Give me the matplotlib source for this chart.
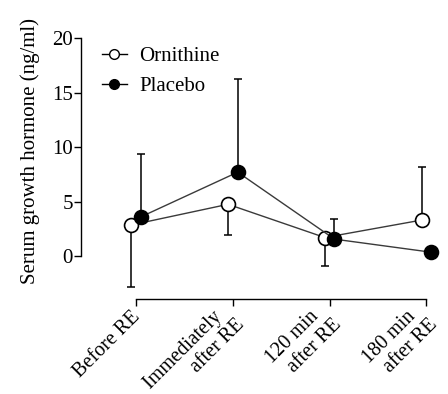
import numpy as np
import matplotlib
matplotlib.use('Agg')
import matplotlib.pyplot as plt
import matplotlib.transforms as mtransforms

# data
timepoints = ['Before RE', 'Immediately\nafter RE', '120 min\nafter RE', '180 min\nafter RE']
ornithine = [2.85, 4.75, 1.7, 3.3]
ornithine_err_low = [5.65, 2.85, 2.6, 0.0]
ornithine_err_high = [0.0, 0.0, 0.0, 4.9]
placebo = [3.6, 7.7, 1.55, 0.35]
placebo_err_low = [0.0, 0.0, 0.0, 0.0]
placebo_err_high = [5.8, 8.6, 1.85, 0.0]
yticks = [0, 5, 10, 15, 20]

plt.rcParams['font.family'] = ['Liberation Serif', 'DejaVu Serif']

fig = plt.figure(figsize=(4.48, 3.94), dpi=100)
ax = fig.add_axes([0.181, 0.241, 0.801, 0.662])

x = np.arange(len(timepoints))
off = 0.05

# error bars first so markers sit on top
ax.errorbar(x - off, ornithine, yerr=[ornithine_err_low, ornithine_err_high],
            fmt='none', ecolor='black', elinewidth=1.1, capsize=3, capthick=1.1,
            zorder=2, clip_on=False)
ax.errorbar(x + off, placebo, yerr=[placebo_err_low, placebo_err_high],
            fmt='none', ecolor='black', elinewidth=1.1, capsize=3, capthick=1.1,
            zorder=2, clip_on=False)

ax.plot(x - off, ornithine, color='#3a3a3a', lw=1.0, marker='o', ms=10,
        mfc='white', mec='black', mew=1.2, zorder=3, clip_on=False)
ax.plot(x + off, placebo, color='#3a3a3a', lw=1.0, marker='o', ms=10,
        mfc='black', mec='black', mew=1.2, zorder=4, clip_on=False)

# legend handles
h1, = ax.plot([], [], color='black', lw=1.0, marker='o', ms=7, mfc='white',
              mec='black', mew=1.0)
h2, = ax.plot([], [], color='black', lw=1.0, marker='o', ms=7, mfc='black',
              mec='black', mew=1.0)
ax.legend([h1, h2], ['Ornithine', 'Placebo'], loc='upper left',
          bbox_to_anchor=(0.035, 1.0), frameon=False, fontsize=15,
          handlelength=1.2, handletextpad=0.6, labelspacing=0.5,
          borderaxespad=0.0)

ax.set_xlim(-0.569, 3.14)
ax.set_ylim(-3.95, 20)

for s in ['top', 'right']:
    ax.spines[s].set_visible(False)
ax.spines['left'].set_bounds(0, 20)
ax.spines['bottom'].set_bounds(0, 3)
ax.spines['left'].set_linewidth(1.0)
ax.spines['bottom'].set_linewidth(1.0)

ax.set_yticks(yticks)
ax.set_yticklabels([str(v) for v in yticks], fontsize=15)
ax.set_xticks(x)
# first line of the two-line labels sits a little short of the second
xlabels = [t.replace('\n', '  \n') for t in timepoints]
ax.set_xticklabels(xlabels, fontsize=14.5, rotation=45, ha='right', va='center',
                   rotation_mode='anchor', multialignment='right',
                   linespacing=1.2)
ax.tick_params(axis='y', direction='out', length=5, width=1.0, pad=1)
ax.tick_params(axis='x', direction='out', length=5, width=1.0, pad=7)

shift = mtransforms.ScaledTranslation(0.01, 0.01, fig.dpi_scale_trans)
for lab in ax.get_xticklabels():
    lab.set_transform(lab.get_transform() + shift)

ax.set_ylabel('Serum growth hormone (ng/ml)', fontsize=15)
ax.yaxis.set_label_coords(-0.115, 0.567)

fig.savefig('out.png', dpi=100, facecolor='white')
